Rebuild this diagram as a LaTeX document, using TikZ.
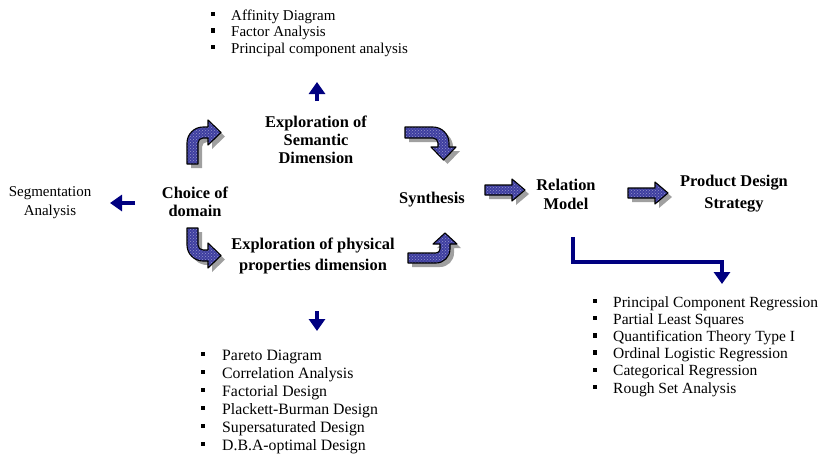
\documentclass[tikz,border=0pt]{standalone}
\usepackage{fontspec}
\setmainfont{Liberation Serif}
\usetikzlibrary{arrows.meta,patterns}
\definecolor{navyc}{RGB}{0,0,128}
\definecolor{arrowblue}{RGB}{62,62,160}
\definecolor{shadowgray}{RGB}{160,160,160}
\newcommand{\lf}{\fontsize{15}{17}\selectfont}
\newcommand{\lfb}{\fontsize{15.8}{17}\selectfont}
\newcommand{\lfr}{\fontsize{15.5}{17}\selectfont}
\newcommand{\bfl}{\fontsize{16.4}{18}\selectfont\bfseries}
\tikzset{
  bigarrow/.style={preaction={fill=arrowblue}, pattern=crosshatch dots, pattern color=white!45!arrowblue, draw=black, line width=1.1pt, line join=round},
  lbl/.style={font=\bfl, anchor=base, inner sep=0pt},
  plain/.style={font=\lf, anchor=base, inner sep=0pt},
  txt/.style={font=\lf, anchor=base west, inner sep=0pt},
  bul/.style={fill=black, minimum size=4.5pt, inner sep=0pt},
  navyarr/.style={draw=navyc, line width=3.5pt, -{Triangle[width=16pt,length=12pt]}, line join=miter},
}
% #1 cm matrix, #2 x, #3 y, #4 L, #5 R, #6 w, #7 a, #8 t
\newcommand{\bentarrow}[8]{%
  \fill[shadowgray, shift={(#2+4,#3-4)}, cm={#1,(0,0)}] (0,0) -- (0,#4) arc[start angle=180,end angle=90,radius=#5] -- ++(#7,0) -- ++(0,7) -- ({#5+#7+#8},{#4+#5-#6/2}) -- ({#5+#7},{#4+#5-#6-7}) -- ++(0,7) -- (#5,{#4+#5-#6}) arc[start angle=90,end angle=180,radius={#5-#6}] -- (#6,0) -- cycle;
  \path[bigarrow, shift={(#2,#3)}, cm={#1,(0,0)}] (0,0) -- (0,#4) arc[start angle=180,end angle=90,radius=#5] -- ++(#7,0) -- ++(0,7) -- ({#5+#7+#8},{#4+#5-#6/2}) -- ({#5+#7},{#4+#5-#6-7}) -- ++(0,7) -- (#5,{#4+#5-#6}) arc[start angle=90,end angle=180,radius={#5-#6}] -- (#6,0) -- cycle;
}
% #1 x0, #2 head base x, #3 tip x, #4 center y
\newcommand{\straightarrow}[4]{%
  \fill[shadowgray, shift={(4,-4)}] (#1,#4+5) -- (#2,#4+5) -- (#2,#4+11) -- (#3,#4) -- (#2,#4-11) -- (#2,#4-5) -- (#1,#4-5) -- cycle;
  \path[bigarrow] (#1,#4+5) -- (#2,#4+5) -- (#2,#4+11) -- (#3,#4) -- (#2,#4-11) -- (#2,#4-5) -- (#1,#4-5) -- cycle;
}
\begin{document}
\begin{tikzpicture}[x=1pt,y=1pt]
\useasboundingbox (0,0) rectangle (825,-453);

% big 3D arrows
\bentarrow{1,0,0,1}{187}{-164}{21}{16}{11}{5}{13}
\bentarrow{0,-1,1,0}{405}{-127}{28}{16}{11}{4}{13}
\bentarrow{1,0,0,-1}{187}{-228}{17}{16}{11}{5}{13}
\bentarrow{0,1,1,0}{408}{-263}{28}{14}{10}{5}{11}
\straightarrow{485}{512}{525}{-190}
\straightarrow{628}{655}{668}{-193}

% labels
\node[lbl] (sem1) at (316,-127) {Exploration of};
\node[lbl] (sem2) at (316,-145) {Semantic};
\node[lbl] (sem3) at (316,-163) {Dimension};
\node[lbl] (cho1) at (195,-198) {Choice of};
\node[lbl] (cho2) at (195,-216) {domain};
\node[lbl] (phy1) at (313,-249) {Exploration of physical};
\node[lbl] (phy2) at (313,-270) {properties dimension};
\node[lbl] (syn) at (432,-203) {Synthesis};
\node[lbl] (rel1) at (566,-190) {Relation};
\node[lbl] (rel2) at (566,-209) {Model};
\node[lbl] (pds1) at (734,-186) {Product Design};
\node[lbl] (pds2) at (734,-208) {Strategy};
\node[plain] (seg1) at (50,-196) {Segmentation};
\node[plain] (seg2) at (50,-215) {Analysis};

% small navy arrows
\coordinate (upS) at (317,-101);
\coordinate (upE) at (317,-82);
\draw[navyarr] (upS) -- (upE);
\coordinate (dnS) at (317,-311);
\coordinate (dnE) at (317,-331);
\draw[navyarr] (dnS) -- (dnE);
\coordinate (lfS) at (135,-203);
\coordinate (lfE) at (110,-203);
\draw[navyarr] (lfS) -- (lfE);
\coordinate (elS) at (573,-237);
\coordinate (elM) at (573,-262);
\coordinate (elE) at (722,-284);
\draw[navyarr] (elS) -- (elM) -| (elE);

% lists
\foreach \t [count=\i] in {Affinity Diagram, Factor Analysis, Principal component analysis} {
  \node[bul] (tb\i) at (213,{-14-16.5*(\i-1)}) {};
  \node[txt] (tl\i) at (231,{-20-16.5*(\i-1)}) {\t};
}
\foreach \t [count=\i] in {Pareto Diagram, Correlation Analysis, Factorial Design, Plackett-Burman Design, Supersaturated Design, D.B.A-optimal Design} {
  \node[bul] (bb\i) at (203,{-354-18*(\i-1)}) {};
  \node[txt, font=\lfb] (bl\i) at (222,{-360-18*(\i-1)}) {\t};
}
\foreach \t [count=\i] in {Principal Component Regression, Partial Least Squares, Quantification Theory Type I, Ordinal Logistic Regression, Categorical Regression, Rough Set Analysis} {
  \node[bul] (rb\i) at (595,{-301-17.2*(\i-1)}) {};
  \node[txt, font=\lfr] (rl\i) at (613,{-307-17.2*(\i-1)}) {\t};
}
\end{tikzpicture}
\end{document}
